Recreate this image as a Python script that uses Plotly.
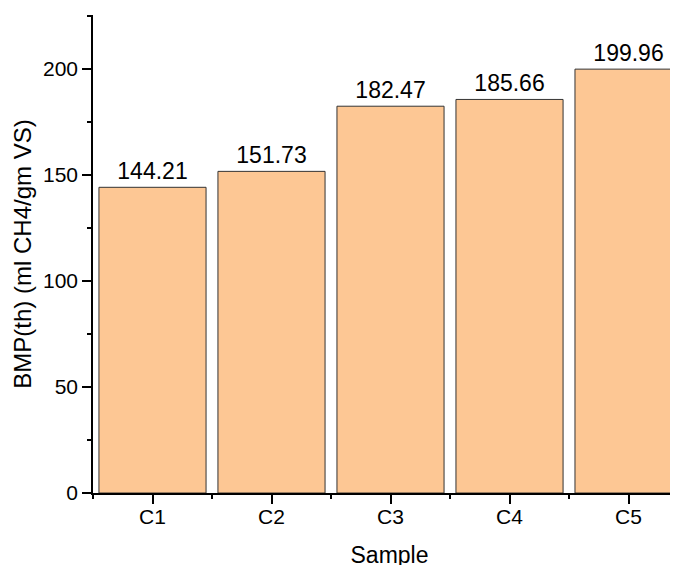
import plotly.graph_objects as go

categories = ["C1", "C2", "C3", "C4", "C5"]
bmp_values = [144.21, 151.73, 182.47, 185.66, 199.96]
value_labels = ["144.21", "151.73", "182.47", "185.66", "199.96"]
y_ticks = [0, 50, 100, 150, 200]

positions = list(range(len(categories)))
font_family = "Liberation Sans, Arial, sans-serif"

fig = go.Figure(
    go.Bar(
        x=positions,
        y=bmp_values,
        text=value_labels,
        textposition="outside",
        textfont=dict(size=23, color="black", family=font_family),
        constraintext="none",
        cliponaxis=False,
        marker=dict(color="#FDC794", line=dict(color="#333333", width=1)),
        width=0.9,
        hoverinfo="skip",
    )
)

fig.update_layout(
    width=678,
    height=565,
    margin=dict(l=85, r=0, t=7, b=80),
    plot_bgcolor="white",
    paper_bgcolor="white",
    showlegend=False,
    font=dict(family=font_family, color="black"),
)

fig.update_xaxes(
    range=[-0.5, 4.483],
    tickmode="array",
    tickvals=positions,
    ticktext=categories,
    ticks="outside",
    ticklen=9,
    tickwidth=1.5,
    tickcolor="black",
    tickfont=dict(size=21, family=font_family, color="black"),
    showline=True,
    linecolor="black",
    linewidth=1.5,
    showgrid=False,
    zeroline=False,
    minor=dict(tick0=0.5, dtick=1, ticks="outside", ticklen=4, tickwidth=1.5, tickcolor="black", showgrid=False),
    title=dict(text="Sample", font=dict(size=23, family=font_family, color="black"), standoff=20),
    ticklabelstandoff=-5,
)

fig.update_yaxes(
    range=[0, 225.5],
    tickmode="array",
    tickvals=y_ticks,
    ticks="outside",
    ticklen=9,
    tickwidth=1.5,
    tickcolor="black",
    tickfont=dict(size=21, family=font_family, color="black"),
    showline=True,
    linecolor="black",
    linewidth=1.5,
    showgrid=False,
    zeroline=False,
    minor=dict(tick0=25, dtick=50, ticks="outside", ticklen=4, tickwidth=1.5, tickcolor="black", showgrid=False),
    title=dict(text="BMP(th) (ml CH4/gm VS)", font=dict(size=24, family=font_family, color="black"), standoff=5),
    ticklabelstandoff=0,
)

fig.write_html("out.html")
